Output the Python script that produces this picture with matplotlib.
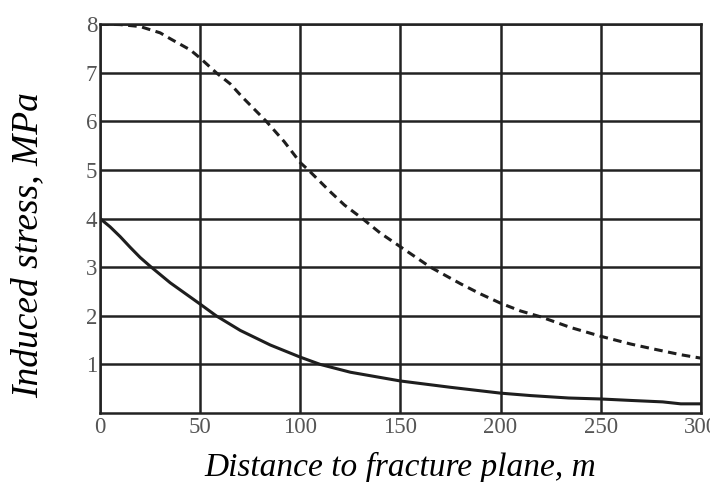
import matplotlib
matplotlib.use("Agg")
import matplotlib.pyplot as plt

# distance to fracture plane, m  /  induced stress, MPa
x_dash = [0, 10, 20, 30, 35, 45, 50, 58, 65, 71, 77, 83, 92, 100, 104, 115,
          122, 131, 140, 150, 165, 180, 190, 200, 210, 220, 235, 250, 265, 275, 290, 300]
y_dash = [8.0, 7.99, 7.95, 7.82, 7.7, 7.47, 7.3, 7.0, 6.77, 6.5, 6.25, 6.0, 5.58, 5.15, 5.0, 4.55,
          4.28, 4.0, 3.7, 3.42, 3.0, 2.66, 2.45, 2.26, 2.1, 1.98, 1.76, 1.58, 1.42, 1.33, 1.2, 1.13]

x_solid = [0, 5, 10, 15, 20, 25, 35, 50, 58, 70, 85, 100, 110, 125, 150, 175,
           200, 215, 234, 250, 265, 281, 290, 300]
y_solid = [4.0, 3.83, 3.63, 3.41, 3.2, 3.02, 2.68, 2.24, 2.0, 1.7, 1.4, 1.15, 1.0, 0.84, 0.66, 0.53,
           0.41, 0.36, 0.31, 0.29, 0.26, 0.23, 0.19, 0.19]

x_ticks = [0, 50, 100, 150, 200, 250, 300]
y_ticks = [1, 2, 3, 4, 5, 6, 7, 8]

plt.rcParams['font.family'] = ['Liberation Serif', 'DejaVu Serif']

fig = plt.figure(figsize=(7.1, 4.82), dpi=100)
ax = fig.add_axes([0.141, 0.143, 0.846, 0.807])

ax.plot(x_dash, y_dash, color='#1e1e1e', lw=2.2, ls=(0, (2.8, 1.8)))
ax.plot(x_solid, y_solid, color='#1e1e1e', lw=2.2)

ax.set_xlim(0, 300)
ax.set_ylim(0, 8)
ax.set_xticks(x_ticks)
ax.set_yticks(y_ticks)
ax.grid(True, color='#222222', lw=1.8)
ax.set_axisbelow(True)
for s in ax.spines.values():
    s.set_color('#222222')
    s.set_linewidth(1.8)
ax.tick_params(length=0, labelsize=16.5, labelcolor='#555555')
ax.tick_params(axis='x', pad=3)
ax.tick_params(axis='y', pad=2)

ax.set_xlabel('Distance to fracture plane, m', fontsize=24, style='italic', labelpad=10)
fig.text(28 / 710, (482 - 245) / 482, 'Induced stress, MPa', fontsize=27, style='italic',
         rotation=90, ha='center', va='center')

fig.savefig('out.png', dpi=100)
